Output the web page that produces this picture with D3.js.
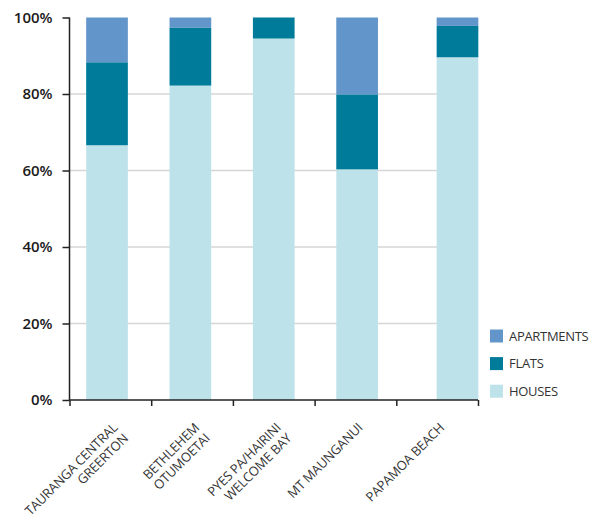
<!DOCTYPE html>
<html>
<head>
<meta charset="utf-8">
<script src="https://cdn.jsdelivr.net/npm/d3@7"></script>
<style>
  body { margin: 0; background: #fff; }
  text { font-family: "Open Sans", sans-serif; }
</style>
</head>
<body>
<script>
// data (share of dwellings, %)
const regions = [
  ["TAURANGA CENTRAL", "GREERTON"],
  ["BETHLEHEM", "OTUMOETAI"],
  ["PYES PA/HAIRINI", "WELCOME BAY"],
  ["MT MAUNGANUI"],
  ["PAPAMOA BEACH"]
];
const houses     = [66.6, 82.2, 94.5, 60.3, 89.6];
const flats      = [21.7, 15.2, 5.5, 19.6, 8.2];
const apartments = [11.7, 2.6, 0, 20.1, 2.2];
const seriesNames = ["HOUSES", "FLATS", "APARTMENTS"];
const yTicks = [0, 20, 40, 60, 80, 100];

const colors = { HOUSES: "#bee2e9", FLATS: "#007b99", APARTMENTS: "#6296ca" };

const W = 598, H = 520;
const plotLeft = 69.5, plotRight = 478, plotTop = 17.5, plotBottom = 400;

const svg = d3.select("body").append("svg")
    .attr("width", W)
    .attr("height", H);

const table = regions.map(function(r, i) {
  return { key: i, HOUSES: houses[i], FLATS: flats[i], APARTMENTS: apartments[i] };
});
const stacked = d3.stack().keys(seriesNames)(table);

var x = d3.scaleBand().domain(d3.range(regions.length)).range([plotLeft, plotRight])
    .paddingInner(0.5).paddingOuter(0.2);
var xEdge = d3.scaleLinear().domain([0, regions.length]).range([plotLeft, plotRight]);
var y = d3.scaleLinear().domain([0, 100]).range([plotBottom, plotTop]);

// gridlines
svg.append("g").selectAll("line")
    .data(yTicks.filter(function(t) { return t > 0 && t < 100; }))
    .join("line")
    .attr("x1", plotLeft).attr("x2", plotRight)
    .attr("y1", function(d) { return y(d); })
    .attr("y2", function(d) { return y(d); })
    .attr("stroke", "#d6d6d6")
    .attr("stroke-width", 1.5);

// the last bar sits toward the right end of its slot in the source
const lastNudge = 17;
function barX(i) { return x(i) + (i === regions.length - 1 ? lastNudge : 0); }

svg.append("g").selectAll("g")
    .data(stacked)
    .join("g")
    .attr("fill", function(s) { return colors[s.key]; })
    .selectAll("rect")
    .data(function(s) { return s; })
    .join("rect")
    .attr("x", function(d) { return barX(d.data.key); })
    .attr("width", x.bandwidth())
    .attr("y", function(d) { return y(d[1]); })
    .attr("height", function(d) { return y(d[0]) - y(d[1]); });

// y axis
var yAxis = d3.axisLeft(y).tickValues(yTicks).tickSize(7).tickPadding(10)
    .tickFormat(function(d) { return d + "%"; });
var gy = svg.append("g").attr("transform", "translate(" + plotLeft + ",0)").call(yAxis);
gy.select(".domain").remove();
gy.selectAll("line").attr("stroke", "#222").attr("stroke-width", 1.5);
gy.selectAll("text")
    .style("font-size", "15px").style("font-weight", 600).attr("fill", "#1a1a1a");
svg.append("line")
    .attr("x1", plotLeft).attr("x2", plotLeft).attr("y1", y(100)).attr("y2", plotBottom)
    .attr("stroke", "#222").attr("stroke-width", 1.5);

// x axis: ticks at slot edges
var xAxis = d3.axisBottom(xEdge).tickValues(d3.range(regions.length + 1))
    .tickSize(6).tickFormat("");
var gx = svg.append("g").attr("transform", "translate(0," + plotBottom + ")").call(xAxis);
gx.select(".domain").attr("stroke", "#222").attr("stroke-width", 1.5)
    .attr("d", "M" + plotLeft + ",0H" + plotRight);
gx.selectAll("line").attr("stroke", "#222").attr("stroke-width", 1.5);

// rotated category labels: first line anchored under the slot, extra lines below
const lineH = 15;
var labels = svg.append("g").selectAll("text")
    .data(regions)
    .join("text")
    .attr("transform", function(d, i) {
      return "translate(" + (xEdge(i + 0.5) + 8) + "," + (plotBottom + 28.5) + ") rotate(-45)";
    })
    .attr("text-anchor", "end")
    .style("font-size", "13px")
    .style("letter-spacing", "-0.2px")
    .attr("fill", "#333");
labels.selectAll("tspan")
    .data(function(d) { return d.map(function(t, j) { return { t: t, j: j }; }); })
    .join("tspan")
    .attr("x", 0)
    .attr("y", function(d) { return d.j * lineH; })
    .text(function(d) { return d.t; });

// legend
var legend = svg.append("g").selectAll("g")
    .data(seriesNames.slice().reverse())
    .join("g")
    .attr("transform", function(d, i) { return "translate(490," + (336 + i * 27.6) + ")"; });
legend.append("rect")
    .attr("x", 0).attr("y", -6.5).attr("width", 13).attr("height", 13)
    .attr("fill", function(d) { return colors[d]; });
legend.append("text")
    .attr("x", 19).attr("dy", "0.35em")
    .style("font-size", "13px")
    .style("letter-spacing", "-0.3px")
    .attr("fill", "#333")
    .text(function(d) { return d; });
</script>
</body>
</html>
